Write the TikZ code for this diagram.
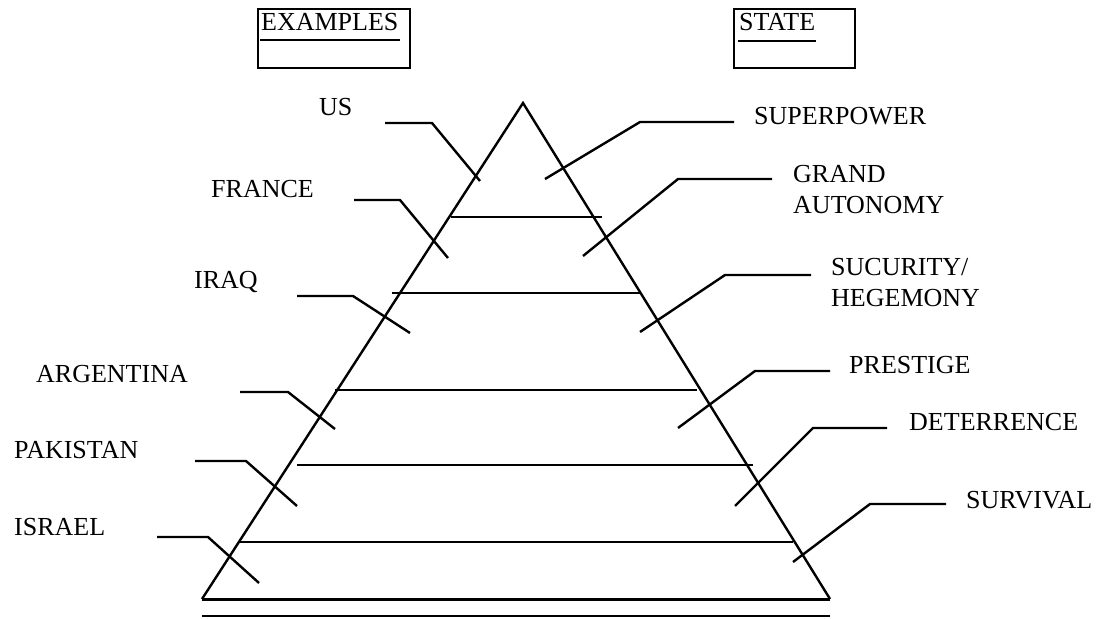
\documentclass[tikz,border=0pt]{standalone}
\usepackage{fontspec}
\setmainfont{Liberation Serif}
\tikzset{
  lbl/.style={font=\fontsize{26}{31}\selectfont, inner sep=0pt, anchor=base west},
  twolbl/.style={lbl, anchor=north west, align=left},
  headbox/.style={draw, line width=1.6pt, inner sep=0pt, minimum height=59pt},
}
\begin{document}
\begin{tikzpicture}[x=1pt, y=-1pt, line width=2.4pt]
	\useasboundingbox (0,0) rectangle (1099,618);
	\node[headbox, minimum width=152pt] (exbox) at (334,38.5) {};
	\node[headbox, minimum width=121pt] (stbox) at (794.5,38.5) {};
	\node[lbl] (ex) at (260,31) {EXAMPLES};
	\node[lbl] (st) at (738,31) {STATE};
	\draw ([yshift=-9pt]ex.base west) -- ([yshift=-9pt]ex.base east);
	\draw ([yshift=-10pt]st.base west) -- ([yshift=-10pt]st.base east);
	\coordinate (apex) at (523,103);
	\coordinate (bl) at (202,599);
	\coordinate (br) at (830,599);
	\draw (bl) -- (apex) -- (br);
	\draw[line width=3pt] (bl) -- (br);
	\draw[line width=2.6pt] (202,616) -- (830,616);
	\draw (451,217) -- (602,217);
	\draw (392,293) -- (640,293);
	\draw (335,390) -- (697,390);
	\draw (297,465) -- (753,465);
	\draw (240,542) -- (793,542);
	\node[lbl] (us) at (318,115) {US};
	\node[lbl] (fr) at (210,197) {FRANCE};
	\node[lbl] (iq) at (193,288) {IRAQ};
	\node[lbl] (ar) at (35,382) {ARGENTINA};
	\node[lbl] (pk) at (13,458) {PAKISTAN};
	\node[lbl] (il) at (13,535) {ISRAEL};
	\draw (385,123) -- (432,123) -- (480,181);
	\draw (354,200) -- (400,200) -- (448,258);
	\draw (297,296) -- (353,296) -- (410,333);
	\draw (240,392) -- (288,392) -- (335,429);
	\draw (195,461) -- (246,461) -- (297,506);
	\draw (157,537) -- (208,537) -- (259,583);
	\node[lbl] (sp) at (753,124) {SUPERPOWER};
	\node[twolbl] (ga) at (792,164) {GRAND\\AUTONOMY};
	\node[twolbl] (sh) at (830,257) {SUCURITY/\\HEGEMONY};
	\node[lbl] (pr) at (848,373) {PRESTIGE};
	\node[lbl] (de) at (908,430) {DETERRENCE};
	\node[lbl] (su) at (965,508) {SURVIVAL};
	\draw (734,122) -- (640,122) -- (545,179);
	\draw (772,179) -- (678,179) -- (583,256);
	\draw (811,275) -- (725,275) -- (640,332);
	\draw (830,371) -- (755,371) -- (678,428);
	\draw (887,428) -- (813,428) -- (735,506);
	\draw (946,504) -- (870,504) -- (793,562);
\end{tikzpicture}
\end{document}
